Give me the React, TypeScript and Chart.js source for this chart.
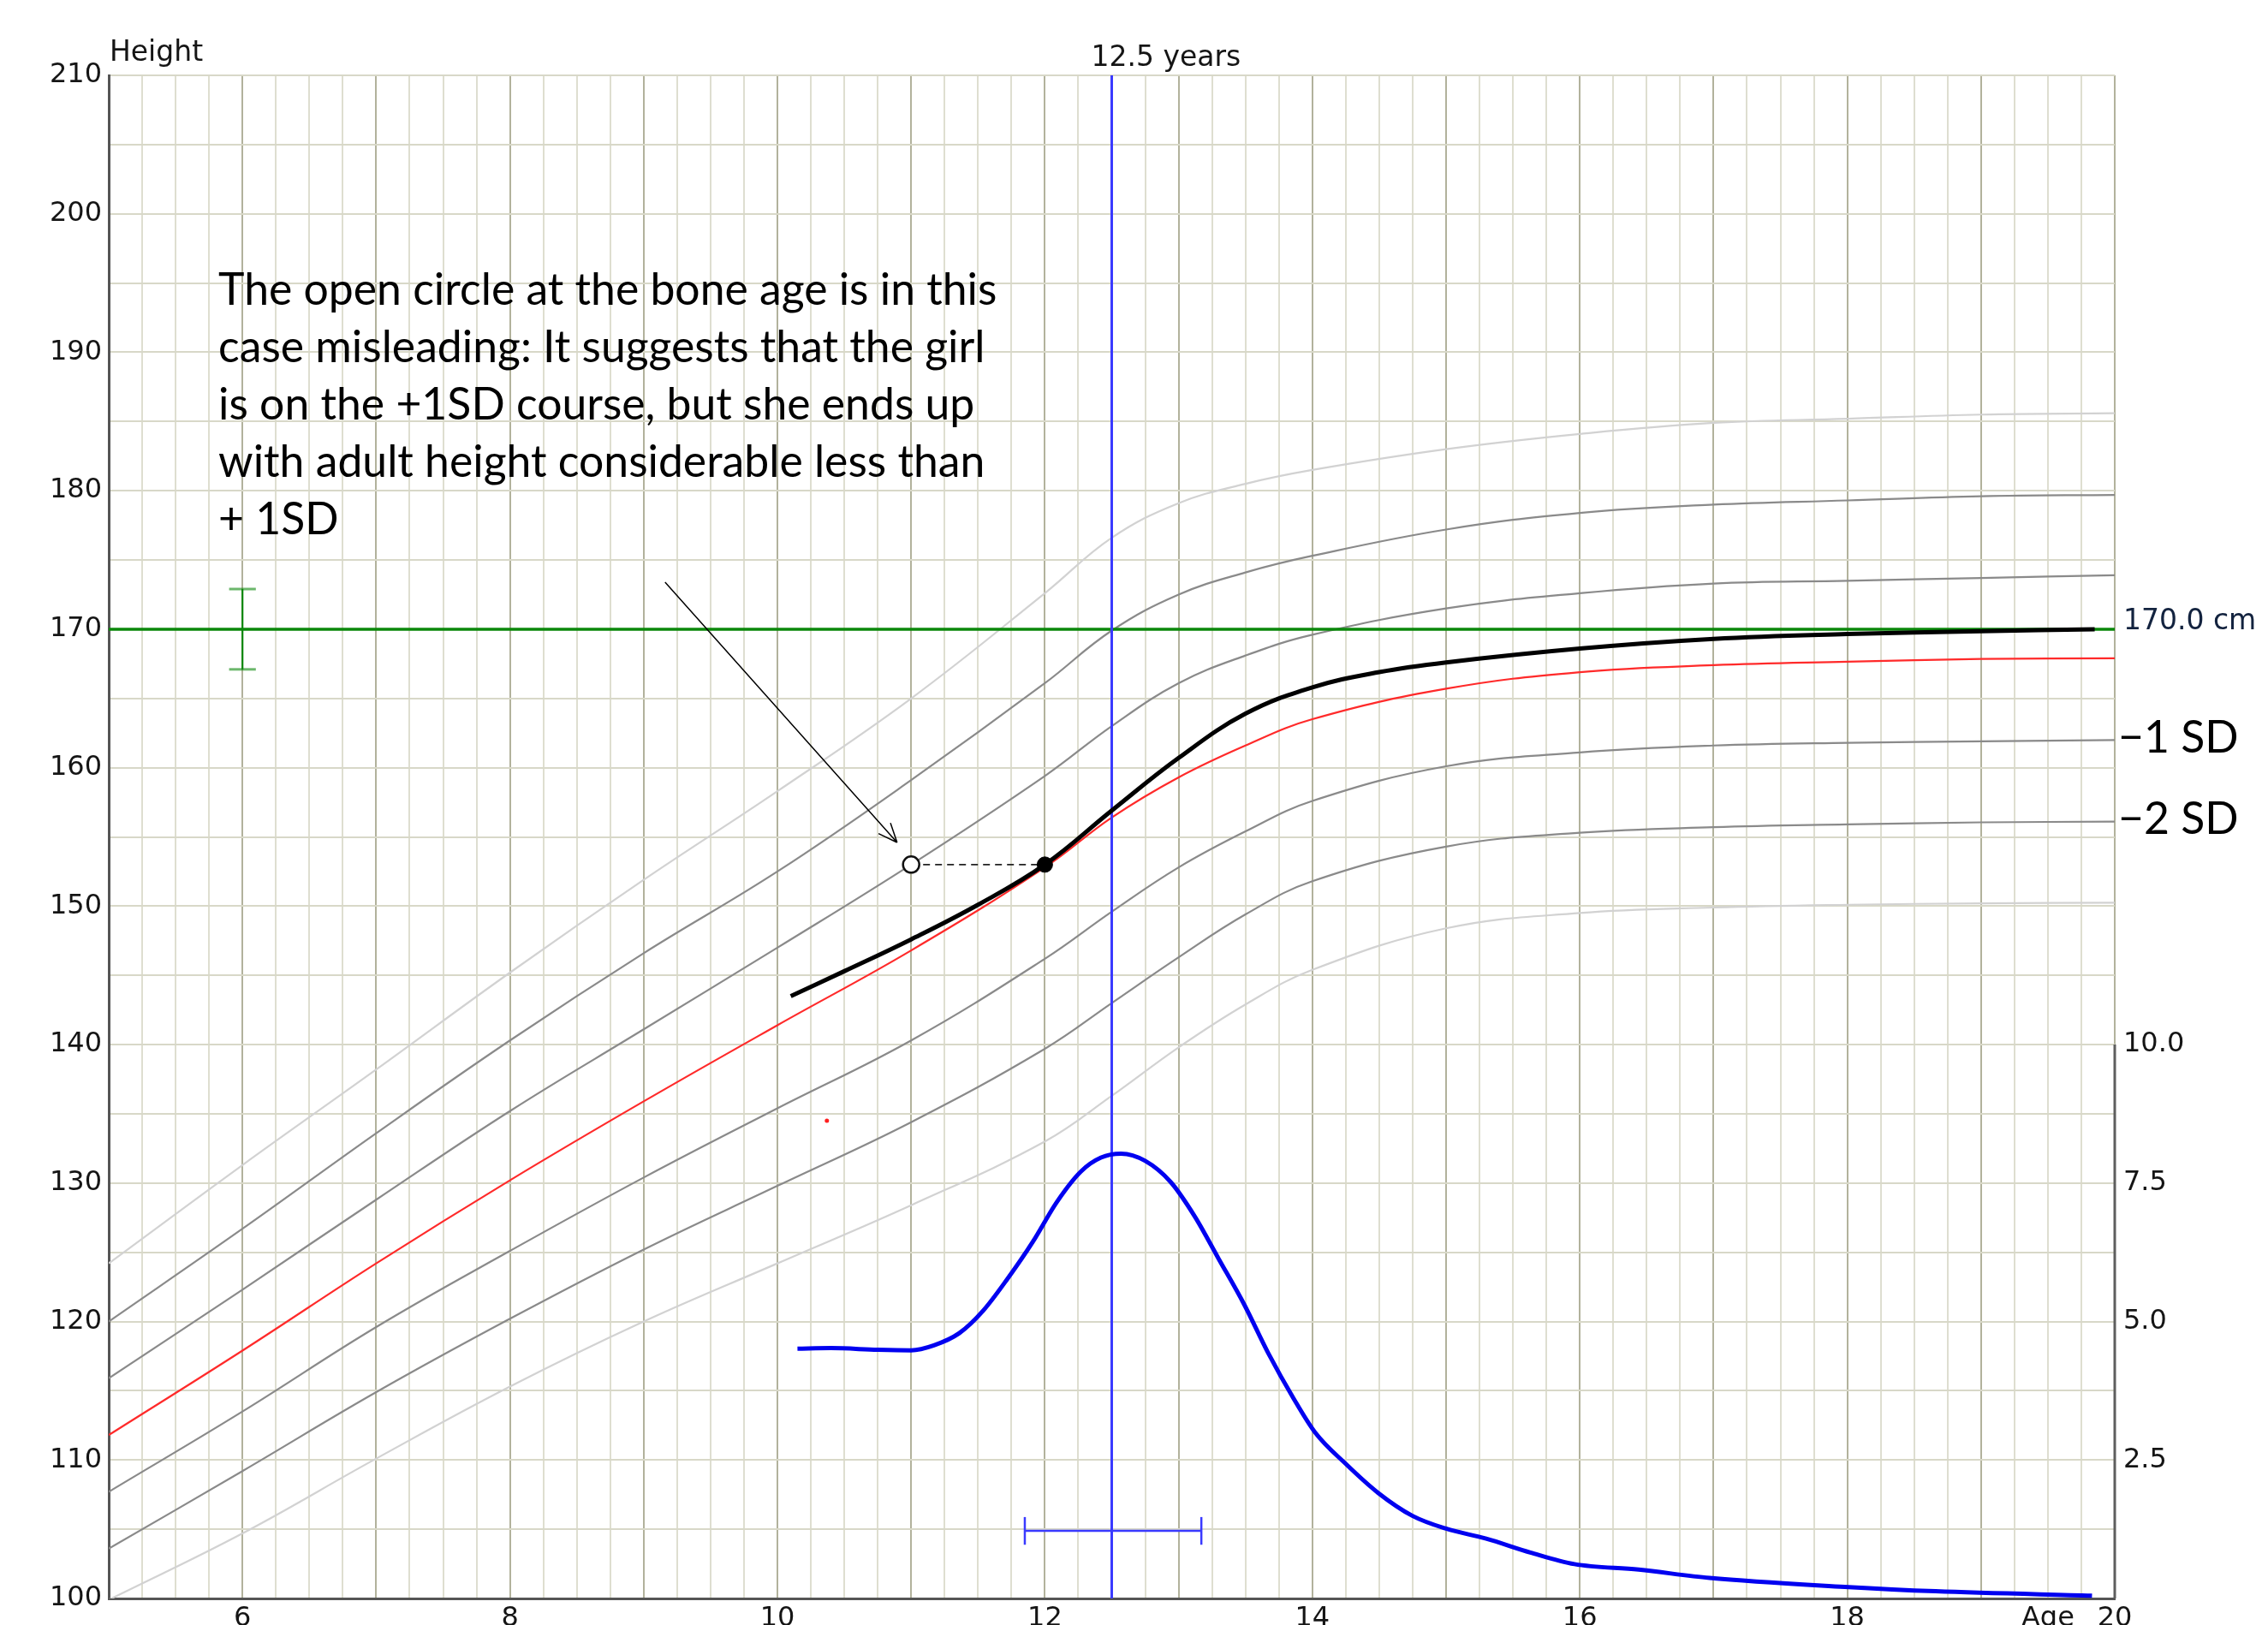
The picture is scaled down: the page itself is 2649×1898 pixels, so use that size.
import { useEffect, useRef } from 'react';
import { Chart, registerables } from 'chart.js';

Chart.register(...registerables);

// ---------- axes ----------
const AGE_MIN = 5;
const AGE_MAX = 20;
const AGE_GRID_STEP = 0.25;
const AGE_LABELS = [6, 8, 10, 12, 14, 16, 18, 20];
const AGE_TITLE = 'Age';
const AGE_TITLE_AT = 19.5;
const HEIGHT_MIN = 100;
const HEIGHT_MAX = 210;
const HEIGHT_GRID_STEP = 5;
const HEIGHT_LABEL_STEP = 10;
const VEL_MIN = 0;
const VEL_MAX = 27.5; // aligns 0..10 cm/yr with 100..140 cm
const VEL_STEP = 2.5;
const VEL_LABEL_MAX = 10;

// ---------- reference curves (girls) ----------
const AGES = [5, 6, 7, 8, 9, 10, 11, 12, 12.5, 13, 13.5, 14, 15, 16, 17, 18, 19, 20];
const SD_PLUS3 = [124.2, 131.3, 138.2, 145.2, 151.9, 158.3, 165.0, 172.6, 176.6, 179.1, 180.5, 181.5, 183.0, 184.1, 184.9, 185.2, 185.5, 185.6];
const SD_PLUS2 = [120.0, 126.7, 133.6, 140.3, 146.6, 152.5, 159.1, 166.1, 169.9, 172.5, 174.1, 175.3, 177.2, 178.4, 179.0, 179.3, 179.6, 179.7];
const SD_PLUS1 = [115.9, 122.3, 128.8, 135.2, 141.1, 147.0, 153.0, 159.4, 163.0, 166.1, 168.1, 169.6, 171.5, 172.6, 173.3, 173.5, 173.7, 173.9];
const MEAN = [111.8, 117.9, 124.2, 130.2, 135.9, 141.4, 146.8, 152.8, 156.4, 159.3, 161.6, 163.5, 165.7, 166.9, 167.4, 167.65, 167.85, 167.9];
const SD_MINUS1 = [107.7, 113.5, 119.6, 125.1, 130.4, 135.4, 140.3, 146.2, 149.6, 152.8, 155.4, 157.6, 160.1, 161.1, 161.6, 161.8, 161.9, 162.0];
const SD_MINUS2 = [103.6, 109.2, 114.9, 120.2, 125.2, 129.8, 134.4, 139.7, 143.0, 146.3, 149.4, 151.8, 154.3, 155.3, 155.7, 155.9, 156.05, 156.1];
const SD_MINUS3 = [99.9, 104.7, 110.1, 115.3, 120.0, 124.2, 128.4, 133.0, 136.3, 139.8, 142.9, 145.4, 148.4, 149.5, 149.9, 150.1, 150.2, 150.25];

// ---------- patient ----------
const PATIENT_AGES = [10.1, 10.5, 11, 11.5, 12, 12.5, 13, 13.5, 14, 14.5, 15, 16, 17, 18, 19, 19.85];
const PATIENT_HEIGHTS = [143.5, 145.3, 147.6, 150.1, 153.0, 156.9, 160.7, 163.9, 165.8, 166.9, 167.6, 168.6, 169.3, 169.65, 169.86, 170.0];
const MEASURE_AGE = 12.0;
const BONE_AGE = 11.0;
const MEASURE_HEIGHT = 153.0;
const STRAY_POINT = [10.37, 134.5];

// ---------- target height ----------
const TARGET_HEIGHT = 170;
const TARGET_BAR_AGE = 6;
const TARGET_RANGE = [167.1, 172.9];
const TARGET_CAP_HALF = 0.1;

// ---------- velocity ----------
const PEAK_AGE = 12.5;
const VEL_AGES = [10.15, 10.4, 10.75, 11.0, 11.17, 11.36, 11.54, 11.72, 11.91, 12.09, 12.27, 12.42, 12.57, 12.75, 12.94, 13.12, 13.3, 13.49, 13.67, 13.86, 14.02, 14.25, 14.49, 14.75, 15.0, 15.3, 15.63, 15.96, 16.44, 16.97, 17.98, 18.66, 19.83];
const VELOCITY = [4.51, 4.52, 4.49, 4.48, 4.57, 4.79, 5.2, 5.77, 6.44, 7.16, 7.71, 7.96, 8.03, 7.9, 7.52, 6.9, 6.13, 5.31, 4.43, 3.61, 3.0, 2.43, 1.91, 1.49, 1.26, 1.08, 0.83, 0.62, 0.52, 0.37, 0.21, 0.13, 0.05];
const PEAK_RANGE = [11.85, 13.17];
const PEAK_BAR_VEL = 1.22;
const PEAK_CAP_HALF = 0.25;

// ---------- annotation ----------
const ARROW_FROM = [9.16, 173.4];
const ARROW_TO = [10.895, 154.6];
const NOTE_ANCHOR = [5.82, 193.4];
const NOTE_LINES = [
  'The open circle at the bone age is in this',
  'case misleading: It suggests that the girl',
  'is on the +1SD course, but she ends up',
  'with adult height considerable less than',
  '+ 1SD',
];
const SD_LABELS = ['\u22121 SD', '\u22122 SD'];

const AXIS_FONT = 'DejaVu Sans';
const NOTE_FONT = 'Lato, "Noto Sans", sans-serif';

type P = { x: number; y: number | null };
const pts = (xs: number[], ys: number[]): P[] => xs.map((x, i) => ({ x, y: ys[i] }));

function curve(data: P[], color: string, width: number, order: number, extra: any = {}) {
  return {
    data,
    borderColor: color,
    backgroundColor: color,
    borderWidth: width,
    pointRadius: 0,
    fill: false,
    order,
    yAxisID: 'y',
    cubicInterpolationMode: 'default',
    tension: 0.4,
    ...extra,
  };
}
function straight(data: P[], color: string, width: number, order: number, extra: any = {}) {
  return curve(data, color, width, order, { tension: 0, ...extra });
}

export default function App() {
  const ref = useRef<HTMLCanvasElement>(null);

  useEffect(() => {
    const canvas = ref.current;
    if (!canvas) return;

    const LIGHT = '#d2d2d2';
    const GREY = '#8a8a8a';
    const RED = '#ff2a2a';
    const GREEN = '#0a870a';
    const BLUE = '#3a3aff';

    const datasets: any[] = [
      curve(pts(AGES, SD_PLUS3), LIGHT, 2.2, 30),
      curve(pts(AGES, SD_MINUS3), LIGHT, 2.2, 30),
      curve(pts(AGES, SD_PLUS2), GREY, 2.2, 29),
      curve(pts(AGES, SD_PLUS1), GREY, 2.2, 29),
      curve(pts(AGES, SD_MINUS1), GREY, 2.2, 29),
      curve(pts(AGES, SD_MINUS2), GREY, 2.2, 29),
      curve(pts(AGES, MEAN), RED, 2.2, 28),
      straight([{ x: AGE_MIN, y: TARGET_HEIGHT }, { x: AGE_MAX, y: TARGET_HEIGHT }], GREEN, 3.5, 20),
      straight([{ x: TARGET_BAR_AGE, y: TARGET_RANGE[0] }, { x: TARGET_BAR_AGE, y: TARGET_RANGE[1] }], GREEN, 2.2, 19),
      straight([{ x: TARGET_BAR_AGE - TARGET_CAP_HALF, y: TARGET_RANGE[0] }, { x: TARGET_BAR_AGE + TARGET_CAP_HALF, y: TARGET_RANGE[0] }], 'rgba(10,135,10,0.6)', 3, 19),
      straight([{ x: TARGET_BAR_AGE - TARGET_CAP_HALF, y: TARGET_RANGE[1] }, { x: TARGET_BAR_AGE + TARGET_CAP_HALF, y: TARGET_RANGE[1] }], 'rgba(10,135,10,0.6)', 3, 19),
      straight([{ x: PEAK_AGE, y: HEIGHT_MIN }, { x: PEAK_AGE, y: HEIGHT_MAX }], BLUE, 3, 18),
      curve(pts(VEL_AGES, VELOCITY), '#0000f0', 5, 17, { yAxisID: 'y2', cubicInterpolationMode: 'monotone' }),
      straight([{ x: PEAK_RANGE[0], y: PEAK_BAR_VEL }, { x: PEAK_RANGE[1], y: PEAK_BAR_VEL }], BLUE, 2.5, 16, { yAxisID: 'y2' }),
      straight([{ x: PEAK_RANGE[0], y: PEAK_BAR_VEL - PEAK_CAP_HALF }, { x: PEAK_RANGE[0], y: PEAK_BAR_VEL + PEAK_CAP_HALF }], BLUE, 2.5, 16, { yAxisID: 'y2' }),
      straight([{ x: PEAK_RANGE[1], y: PEAK_BAR_VEL - PEAK_CAP_HALF }, { x: PEAK_RANGE[1], y: PEAK_BAR_VEL + PEAK_CAP_HALF }], BLUE, 2.5, 16, { yAxisID: 'y2' }),
      curve(pts(PATIENT_AGES, PATIENT_HEIGHTS), '#000000', 5, 10),
      straight([{ x: BONE_AGE, y: MEASURE_HEIGHT }, { x: MEASURE_AGE, y: MEASURE_HEIGHT }], '#222222', 1.8, 9, { borderDash: [8, 6] }),
      {
        data: [{ x: MEASURE_AGE, y: MEASURE_HEIGHT }],
        showLine: false, pointRadius: 9, pointBackgroundColor: '#000', pointBorderColor: '#000', pointBorderWidth: 1, order: 5, yAxisID: 'y',
      },
      {
        data: [{ x: BONE_AGE, y: MEASURE_HEIGHT }],
        showLine: false, pointRadius: 9.5, pointBackgroundColor: '#fff', pointBorderColor: '#111', pointBorderWidth: 2.5, order: 5, yAxisID: 'y',
      },
      {
        data: [{ x: STRAY_POINT[0], y: STRAY_POINT[1] }],
        showLine: false, pointRadius: 2.5, pointBackgroundColor: '#ff2020', pointBorderColor: '#ff2020', pointBorderWidth: 0, order: 5, yAxisID: 'y',
      },
    ];

    const overlay = {
      id: 'overlay',
      afterDatasetsDraw(chart: any) {
        const { ctx, chartArea } = chart;
        const x = chart.scales.x;
        const y = chart.scales.y;
        const y2 = chart.scales.y2;
        ctx.save();

        // right (velocity) axis line
        ctx.strokeStyle = '#5e5e5e';
        ctx.lineWidth = 3;
        ctx.beginPath();
        ctx.moveTo(chartArea.right, y2.getPixelForValue(VEL_LABEL_MAX));
        ctx.lineTo(chartArea.right, y2.getPixelForValue(VEL_MIN));
        ctx.stroke();

        // arrow
        const ax0 = x.getPixelForValue(ARROW_FROM[0]);
        const ay0 = y.getPixelForValue(ARROW_FROM[1]);
        const ax1 = x.getPixelForValue(ARROW_TO[0]);
        const ay1 = y.getPixelForValue(ARROW_TO[1]);
        ctx.strokeStyle = '#000';
        ctx.lineWidth = 1.5;
        ctx.beginPath();
        ctx.moveTo(ax0, ay0);
        ctx.lineTo(ax1, ay1);
        const ang = Math.atan2(ay1 - ay0, ax1 - ax0);
        for (const s of [-1, 1]) {
          ctx.moveTo(ax1, ay1);
          ctx.lineTo(ax1 - 24 * Math.cos(ang + s * 0.4), ay1 - 24 * Math.sin(ang + s * 0.4));
        }
        ctx.stroke();

        // axis captions
        ctx.fillStyle = '#151515';
        ctx.font = `33px "${AXIS_FONT}"`;
        ctx.textAlign = 'left';
        ctx.textBaseline = 'middle';
        ctx.fillText('Height', chartArea.left + 1, chartArea.top - 26);
        ctx.fillText(`${PEAK_AGE} years`, x.getPixelForValue(PEAK_AGE) - 24, chartArea.top - 20);
        ctx.fillStyle = '#13233f';
        ctx.fillText(`${TARGET_HEIGHT.toFixed(1)} cm`, chartArea.right + 10, y.getPixelForValue(TARGET_HEIGHT) - 8);

        // note text, fitted to the original width
        ctx.font = `56px ${NOTE_FONT}`;
        const w = ctx.measureText(NOTE_LINES[0]).width || 909;
        const size = (56 * 909) / w;
        ctx.font = `${size.toFixed(1)}px ${NOTE_FONT}`;
        ctx.fillStyle = '#000';
        ctx.textBaseline = 'alphabetic';
        const nx = x.getPixelForValue(NOTE_ANCHOR[0]);
        const ny = y.getPixelForValue(NOTE_ANCHOR[1]);
        NOTE_LINES.forEach((t, i) => ctx.fillText(t, nx, ny + i * 67));

        // SD labels at curve ends
        ctx.textBaseline = 'middle';
        const ends = [SD_MINUS1[SD_MINUS1.length - 1], SD_MINUS2[SD_MINUS2.length - 1]];
        SD_LABELS.forEach((t, i) => ctx.fillText(t, chartArea.right + 4, y.getPixelForValue(ends[i]) - 2));

        ctx.restore();
      },
    };

    const xTicks: { value: number }[] = [];
    for (let v = AGE_MIN; v <= AGE_MAX + 1e-9; v += AGE_GRID_STEP) xTicks.push({ value: Math.round(v * 100) / 100 });
    const yTicks: { value: number }[] = [];
    for (let v = HEIGHT_MIN; v <= HEIGHT_MAX; v += HEIGHT_GRID_STEP) yTicks.push({ value: v });
    const y2Ticks: { value: number }[] = [];
    for (let v = VEL_MIN; v <= VEL_MAX + 1e-9; v += VEL_STEP) y2Ticks.push({ value: v });

    const tickFont = { family: AXIS_FONT, size: 32 };

    const chart = new Chart(canvas, {
      type: 'line',
      data: { datasets },
      options: {
        animation: false,
        responsive: true,
        maintainAspectRatio: false,
        events: [],
        layout: { padding: { top: 88, left: 0, right: 0, bottom: 0 } },
        plugins: { legend: { display: false }, tooltip: { enabled: false } },
        scales: {
          x: {
            type: 'linear',
            min: AGE_MIN,
            max: AGE_MAX,
            afterBuildTicks: (s: any) => { s.ticks = xTicks.map((t) => ({ ...t })); },
            afterFit: (s: any) => { s.height = 31; },
            grid: {
              drawTicks: false,
              lineWidth: 2,
              color: (c: any) => (c.tick && Number.isInteger(c.tick.value) ? '#b2b29c' : '#deded0'),
            },
            border: { display: true, color: '#555555', width: 3 },
            ticks: {
              autoSkip: false,
              maxRotation: 0,
              padding: 4,
              color: '#151515',
              font: tickFont,
              callback: (v: any) => {
                const n = Number(v);
                if (Math.abs(n - AGE_TITLE_AT) < 1e-6) return AGE_TITLE;
                return AGE_LABELS.includes(n) ? String(n) : '';
              },
            },
          },
          y: {
            type: 'linear',
            position: 'left',
            min: HEIGHT_MIN,
            max: HEIGHT_MAX,
            afterBuildTicks: (s: any) => { s.ticks = yTicks.map((t) => ({ ...t })); },
            afterFit: (s: any) => { s.width = 127; },
            grid: { drawTicks: false, lineWidth: 2, color: '#d8d8c8' },
            border: { display: true, color: '#555555', width: 3 },
            ticks: {
              autoSkip: false,
              padding: 8,
              color: '#151515',
              font: tickFont,
              callback: (v: any) => (Number(v) % HEIGHT_LABEL_STEP === 0 ? String(v) : ''),
            },
          },
          y2: {
            type: 'linear',
            position: 'right',
            min: VEL_MIN,
            max: VEL_MAX,
            afterBuildTicks: (s: any) => { s.ticks = y2Ticks.map((t) => ({ ...t })); },
            afterFit: (s: any) => { s.width = 179; },
            grid: { display: false, drawTicks: false },
            border: { display: false },
            ticks: {
              autoSkip: false,
              padding: 10,
              color: '#151515',
              font: tickFont,
              callback: (v: any) => {
                const n = Number(v);
                return n > 0 && n <= VEL_LABEL_MAX ? n.toFixed(1) : '';
              },
            },
          },
        },
      } as any,
      plugins: [overlay],
    });

    return () => chart.destroy();
  }, []);

  return (
    <div style={{ position: 'absolute', left: 0, top: 0, width: 2649, height: 1898, background: '#ffffff' }}>
      <canvas ref={ref} />
    </div>
  );
}
